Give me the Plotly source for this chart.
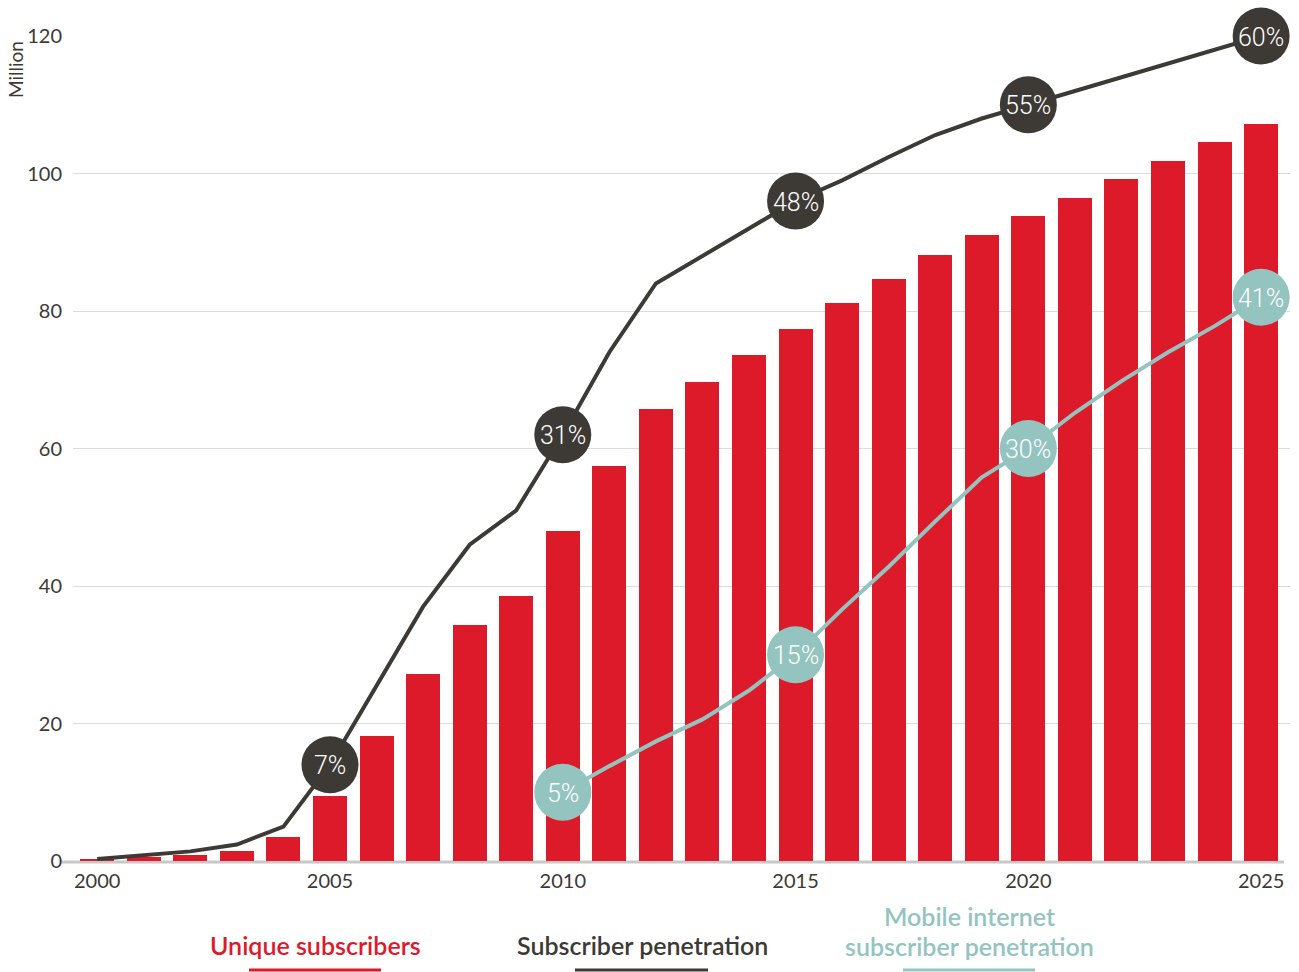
import plotly.graph_objects as go

years = list(range(2000, 2026))

# Unique subscribers, million
subscribers = [0.3, 0.6, 0.9, 1.5, 3.5, 9.5, 18.2, 27.2, 34.3, 38.5, 48.0, 57.5, 65.7,
               69.7, 73.6, 77.4, 81.2, 84.7, 88.1, 91.1, 93.8, 96.4, 99.2, 101.8, 104.6, 107.2]

# Subscriber penetration, %
penetration = [0.15, 0.4, 0.7, 1.2, 2.5, 7, 12.7, 18.5, 23, 25.5, 31, 37, 42, 44, 46, 48,
               49.5, 51.2, 52.8, 54, 55, 56, 57, 58, 59, 60]

# Mobile internet subscriber penetration, %
mobile_years = list(range(2010, 2026))
mobile_penetration = [5, 6.9, 8.7, 10.3, 12.4, 15, 18.3, 21.4, 24.7, 27.9, 30, 32.6, 34.9,
                      37, 38.9, 41]

# Years with a highlighted value bubble
pen_label_years = [2005, 2010, 2015, 2020, 2025]
mob_label_years = [2010, 2015, 2020, 2025]

RED = "#dc1a2a"
DARK = "#3d3935"
TEAL = "#93c4c0"
GRID = "#dcdcdc"
TICK_FONT = dict(family="Lato, Open Sans, sans-serif", size=20, color="#3d3935")
PCT_FONT = "Roboto, sans-serif"

fig = go.Figure()

fig.add_trace(go.Bar(x=years, y=subscribers, width=0.73, marker=dict(color=RED, line_width=0),
                     name="Unique subscribers", showlegend=False))

fig.add_trace(go.Scatter(x=years, y=penetration, yaxis="y2", mode="lines",
                         line=dict(color=DARK, width=4), cliponaxis=False, showlegend=False))
fig.add_trace(go.Scatter(x=mobile_years, y=mobile_penetration, yaxis="y2", mode="lines",
                         line=dict(color=TEAL, width=4), cliponaxis=False, showlegend=False))

def bubbles(xs, ys, label_years, color):
    px = [x for x in xs if x in label_years]
    py = [y for x, y in zip(xs, ys) if x in label_years]
    fig.add_trace(go.Scatter(
        x=px, y=py, yaxis="y2", mode="markers",
        marker=dict(size=57, color=color, line_width=0),
        cliponaxis=False, showlegend=False, hoverinfo="skip"))
    for x, y in zip(px, py):
        fig.add_annotation(x=x, y=y, yref="y2", text=f"{y:g}%", showarrow=False,
                           xanchor="center", yanchor="middle", yshift=-1,
                           font=dict(family=PCT_FONT, size=25, color="white", weight=300))

bubbles(years, penetration, pen_label_years, DARK)
bubbles(mobile_years, mobile_penetration, mob_label_years, TEAL)

PL, PR, PT, PB = 73, 1290, 36, 861
def xp(px):
    return (px - PL) / (PR - PL)
def yp(py):
    return (PB - py) / (PB - PT)

# Legend drawn as text lines with an underline bar below each entry
legend_text = [
    ("Unique subscribers", RED, 315, 945),
    ("Subscriber penetration", DARK, 642, 945),
    ("Mobile internet", TEAL, 969, 916),
    ("subscriber penetration", TEAL, 969, 946),
]
legend_bars = [(RED, 249, 381), (DARK, 575, 708), (TEAL, 903, 1035)]

shapes = [dict(type="line", xref="paper", yref="paper", x0=xp(60), x1=xp(1284),
               y0=yp(862), y1=yp(862), line=dict(color="#c8c8c8", width=3), layer="below")]
for color, u0, u1 in legend_bars:
    shapes.append(dict(type="line", xref="paper", yref="paper", x0=xp(u0), x1=xp(u1),
                       y0=yp(970), y1=yp(970), line=dict(color=color, width=3)))

for text, color, cx, cy in legend_text:
    fig.add_annotation(text=text, x=xp(cx), y=yp(cy), xref="paper", yref="paper",
                       xanchor="center", yanchor="middle", showarrow=False,
                       font=dict(family="Lato, Open Sans, sans-serif", size=25,
                                 color=color, weight=600))

fig.add_annotation(text="Million", textangle=-90, x=xp(15), y=yp(70), xref="paper",
                   yref="paper", xanchor="center", yanchor="middle", showarrow=False,
                   font=dict(family="Lato, Open Sans, sans-serif", size=19, color=DARK))

fig.update_layout(
    width=1299, height=972,
    margin=dict(l=PL, r=1299 - PR, t=PT, b=972 - PB),
    paper_bgcolor="white", plot_bgcolor="white",
    bargap=0,
    xaxis=dict(range=[1999.48, 2025.62], tickmode="linear", tick0=2000, dtick=5,
               showgrid=False, zeroline=False, showline=False, ticks="",
               tickfont=TICK_FONT, ticklabelstandoff=6),
    yaxis=dict(range=[0, 120], tickmode="linear", tick0=0, dtick=20, showgrid=True,
               gridcolor=GRID, gridwidth=1, zeroline=False, showline=False, ticks="",
               tickfont=TICK_FONT, ticklabelstandoff=10),
    yaxis2=dict(range=[0, 60], overlaying="y", visible=False, showgrid=False),
    shapes=shapes,
)

fig.write_html("out.html")
